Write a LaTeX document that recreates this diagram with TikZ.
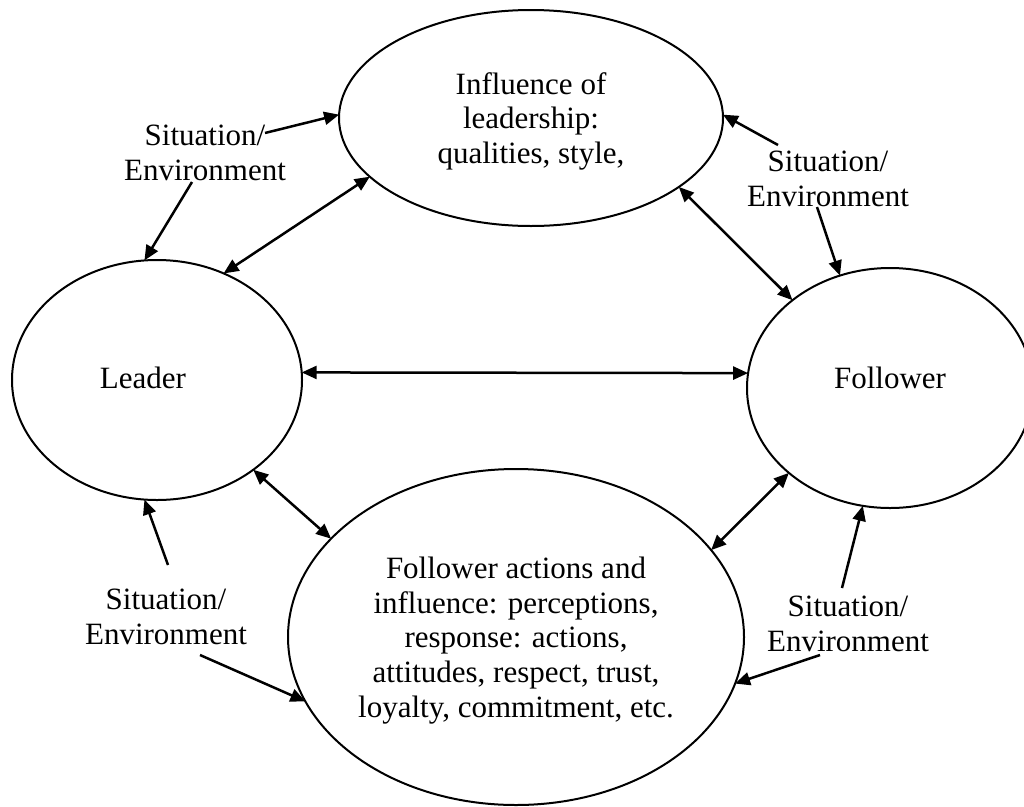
\documentclass[tikz,border=0pt]{standalone}
\usepackage{fontspec}
\setmainfont{Liberation Serif}
\usetikzlibrary{arrows.meta,shapes.geometric}
\begin{document}
\begin{tikzpicture}[x=1pt,y=-1pt,
  txt/.style={font=\fontsize{31}{34.7}\selectfont},
  oval/.style={ellipse,draw,line width=2pt,inner sep=0pt,outer sep=0pt,
               align=center,txt},
  lbl/.style={align=center,inner sep=0pt,txt,text depth=0pt},
  link/.style={line width=2.5pt,
               {Triangle[length=15pt,width=13pt]}-{Triangle[length=15pt,width=13pt]}},
  push/.style={line width=2.5pt,-{Triangle[length=15pt,width=13pt]}},
]
\useasboundingbox (0,0) rectangle (1024,806);

% the four ovals
\node[oval,minimum width=384pt,minimum height=216pt,text depth=0pt] (infl) at (531,118)
  {Influence of\\leadership:\\qualities, style,};
\node[oval,minimum width=290pt,minimum height=240pt,text depth=4.8pt] (lead) at (157,380)
  {\hspace*{-28pt}Leader};
\node[oval,minimum width=286pt,minimum height=240pt,text height=20.8pt,text depth=20pt] (fol) at (890,388)
  {Follower};
\node[oval,minimum width=456pt,minimum height=336pt,text depth=0pt] (resp) at (516,637)
  {Follower actions and\\influence: perceptions,\\response: actions,\\attitudes, respect, trust,\\loyalty, commitment, etc.};

% situation / environment labels
\node[lbl] (sitTL) at (205,153) {Situation/\\Environment};
\node[lbl] (sitTR) at (828,179) {Situation/\\Environment};
\node[lbl] (sitBL) at (166,617) {Situation/\\Environment};
\node[lbl] (sitBR) at (848,624) {Situation/\\Environment};

% loose ends of the situation arrows
\coordinate (tl1) at (265,133);
\coordinate (tl2) at (192,182);
\coordinate (tr1) at (778,145);
\coordinate (tr2) at (817,207);
\coordinate (bl1) at (168,565);
\coordinate (bl2) at (200,655);
\coordinate (br1) at (842,588);
\coordinate (br2) at (820,655);

% two-way links between the ovals
\draw[link] (lead.3) -- (fol.174);
\draw[link] (lead.58) -- (infl.200);
\draw[link] (infl.335) -- (fol.138);
\draw[link] (lead.317) -- (resp.152);
\draw[link] (resp.24) -- (fol.220);

% situation arrows
\draw[push] (tl1) -- (infl.179);
\draw[push] (tl2) -- (lead.96);
\draw[push] (tr1) -- (infl.1);
\draw[push] (tr2) -- (fol.114);
\draw[push] (bl1) -- (lead.264);
\draw[push] (bl2) -- (resp.197);
\draw[push] (br1) -- (fol.257);
\draw[push] (br2) -- (resp.348);
\end{tikzpicture}
\end{document}
